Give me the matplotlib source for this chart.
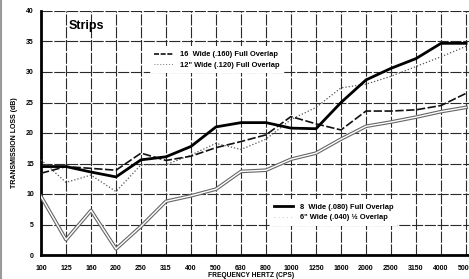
import matplotlib
matplotlib.use("Agg")
import matplotlib.pyplot as plt
from matplotlib.lines import Line2D

plt.rcParams['font.family'] = ['Liberation Sans', 'DejaVu Sans']
plt.rcParams['font.weight'] = 'bold'

freq_labels = ['100', '125', '160', '200', '250', '315', '400', '500', '630', '800',
               '1000', '1250', '1600', '2000', '2500', '3150', '4000', '5000']

# transmission loss (dB) per strip type
wide16 = [13.4, 14.5, 14.2, 13.9, 16.7, 15.5, 16.2, 17.6, 18.6, 19.7,
          22.7, 21.5, 20.5, 23.6, 23.6, 23.8, 24.5, 26.5]
wide12 = [15.6, 11.9, 13.1, 10.4, 14.8, 14.8, 16.4, 18.3, 17.3, 19.0,
          22.2, 24.2, 27.4, 28.0, 29.3, 30.9, 32.5, 34.2]
wide8 = [14.5, 14.5, 13.6, 12.8, 15.6, 16.1, 17.8, 21.0, 21.7, 21.7,
         20.8, 20.7, 25.0, 28.7, 30.6, 32.2, 34.7, 34.7]
wide6 = [9.6, 2.5, 7.3, 1.0, 4.7, 8.8, 9.7, 10.8, 13.7, 13.9,
         15.7, 16.7, 19.0, 21.1, 21.8, 22.6, 23.5, 24.2]

y_ticks = [0, 5, 10, 15, 20, 25, 30, 35, 40]

W, H = 469, 279
fig = plt.figure(figsize=(W / 100, H / 100), dpi=100)
ax = fig.add_axes([41 / W, 24 / H, 428 / W, 244 / H])

x = list(range(len(freq_labels)))

ax.set_xlim(0, 428 / 25)
ax.set_ylim(0, 40)
ax.set_xticks(x)
ax.set_xticklabels(freq_labels)
ax.set_yticks(y_ticks)
ax.tick_params(length=0, labelsize=5.0)
ax.tick_params(axis='x', pad=7)
ax.tick_params(axis='y', pad=5)

ax.grid(True, color='#2a2a2a', lw=0.8, linestyle=(0, (10, 1.5)))
ax.set_axisbelow(True)
for s in ['top', 'right']:
    ax.spines[s].set_visible(False)
ax.spines['left'].set_linewidth(2.0)
ax.spines['bottom'].set_linewidth(2.0)

# double line for the 6" strip
ax.plot(x, wide6, color='#666666', lw=2.6, zorder=3)
ax.plot(x, wide6, color='white', lw=1.0, zorder=4)
ax.plot(x, wide12, color='#555555', lw=0.9, linestyle=(0, (1, 1.6)), zorder=3)
ax.plot(x, wide16, color='#111111', lw=1.2, linestyle=(0, (5, 1.5)), zorder=3)
ax.plot(x, wide8, color='black', lw=2.0, zorder=5)

h16 = Line2D([], [], color='#111111', lw=1.2, linestyle=(0, (3, 1)))
h12 = Line2D([], [], color='#777777', lw=0.7, linestyle=(0, (1, 2)))
h8 = Line2D([], [], color='black', lw=2.0)
h6 = Line2D([], [], color='#bbbbbb', lw=0.6, linestyle=(0, (1, 4)))

leg1 = ax.legend([h16, h12], ['16  Wide (.160) Full Overlap', '12" Wide (.120) Full Overlap'],
                 loc='upper left', bbox_to_anchor=(0.245, 0.87), fontsize=5.4,
                 frameon=True, facecolor='white', edgecolor='none', framealpha=1,
                 handlelength=2.5, handletextpad=1.0, borderpad=0.6, labelspacing=0.45)
leg1.set_zorder(6)
ax.add_artist(leg1)
leg2 = ax.legend([h8, h6], ['8  Wide (.080) Full Overlap', '6" Wide (.040) \u00bd Overlap'],
                 loc='upper left', bbox_to_anchor=(0.525, 0.245), fontsize=5.4,
                 frameon=True, facecolor='white', edgecolor='none', framealpha=1,
                 handlelength=2.5, handletextpad=1.0, borderpad=0.6, labelspacing=0.45)
leg2.set_zorder(6)

fig.text(69 / W, 1 - 26 / H, 'Strips', ha='left', va='center', fontsize=9, fontweight='bold')

fig.text(251 / W, 1 - 275.5 / H, 'FREQUENCY HERTZ (CPS)', ha='center', va='center', fontsize=4.8)
fig.text(15 / W, 1 - 143 / H, 'TRANSMISSION LOSS (dB)', ha='center', va='center',
         rotation=90, fontsize=5.0)

fig.add_artist(Line2D([1 / W, 1 / W], [0, 1], color='#999999', lw=1.5))

fig.savefig('out.png', dpi=100)
